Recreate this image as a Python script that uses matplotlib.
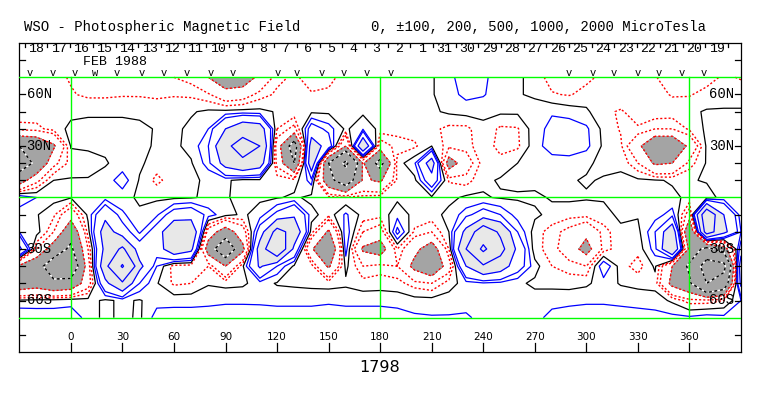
import numpy as np
import matplotlib
matplotlib.use('Agg')
import matplotlib.pyplot as plt

# WSO synoptic map, Carrington rotation 1798 (Feb 1988), field in microTesla
# values on a 10 x 10 degree grid
grid_lon = list(range(-30, 391, 10))
grid_lat = [70, 60, 50, 40, 30, 20, 10, 0, -10, -20, -30, -40, -50, -60, -70]

b_70n = [-60, -60, -70, -110, -150, -150, -150, -160, -170, -200, -250, -500, -800, -750, -400, -130, -80, -150, -130, -60, -40, -40, -80, -30, -10, 60, 180, 120, 50, 20, -40, -150, -180, -130, -70, -50, -60, -90, -180, -180, -150, -80, -110]
b_60n = [-40, -50, -60, -90, -120, -120, -110, -110, -120, -110, -120, -180, -350, -300, -150, -80, -70, -90, -80, -50, -40, -40, -50, -30, -10, 60, 130, 110, 40, 10, -20, -90, -110, -60, -40, -40, -40, -60, -110, -110, -60, -40, -40]
b_50n = [-20, -40, -50, -30, -20, -20, -20, -30, -40, -30, -10, 20, 30, 40, 30, -10, -30, -20, -20, -30, -20, -20, -40, -40, -20, 20, 40, 30, 20, 20, 60, 90, 60, 20, -80, -110, -60, -30, -40, -20, 10, 10, 10]
b_40n = [-150, -130, -60, 30, 40, 40, 40, 30, -10, -20, 20, 100, 500, 800, 700, -100, -250, 300, 150, -20, 80, -30, -60, -50, -70, -130, -130, -30, -120, -110, 60, 130, 160, 120, -30, -110, -110, -200, -200, -80, 20, 30, 30]
b_30n = [-1000, -900, -550, 10, 20, 20, 40, 20, -10, -20, 30, 200, 900, 1200, 1000, -300, -1300, 700, 350, -500, 900, -300, -150, -120, 0, -150, -150, -20, -150, -120, 60, 150, 180, 130, -20, -80, -400, -900, -900, -400, 20, 20, 20]
b_20n = [-1300, -900, -250, -60, -50, -10, 40, 20, -50, -40, -10, 150, 650, 900, 700, -250, -1000, 800, -1000, -2200, -450, -1200, -50, 80, 700, -700, -300, -50, -50, 0, 20, 50, 40, 20, -30, -20, -200, -550, -500, -150, 10, 20, 20]
b_10n = [-700, -250, 0, 10, 10, 40, 160, -10, -130, -40, -20, 20, 20, -40, -30, -40, -50, 150, -800, -1400, -450, -550, -80, -30, 350, -110, -150, -20, 10, 20, 30, 20, 10, -10, 10, 20, 20, 10, -10, -10, 10, 10, 10]
b_eq = [200, 100, 40, 10, 30, 60, 40, -20, -20, -20, -10, 20, 10, -30, -20, -10, 20, -30, -60, -90, -60, -40, -20, -20, -20, -30, 20, 10, -10, -10, -20, 10, 20, 10, 10, 20, 20, 30, 20, -20, -50, 40, 30]
b_10s = [20, 10, -80, -350, 30, 400, 120, 20, 80, 300, 350, 150, 40, -20, 50, 250, 450, 40, -60, 120, -40, -60, 60, -30, -40, 30, 150, 300, 200, 50, 20, -30, -60, -60, -30, 20, 10, 50, 150, -300, 1500, 500, 40]
b_20s = [100, 50, -200, -800, -50, 700, 300, 80, 300, 900, 850, -300, -700, -300, 300, 1200, 800, -50, -550, 180, -200, -300, 250, -120, -200, 0, 600, 1400, 900, 200, -50, -150, -250, -400, -150, -20, -30, 200, 800, -1000, 1300, 600, 100]
b_30s = [600, -200, -700, -1100, -200, 600, 1100, 300, 300, 800, 600, -700, -1500, -600, 700, 1600, 400, -450, -950, 150, -550, -700, -100, -400, -700, -100, 1000, 2200, 1200, 400, -60, -150, -300, -650, -150, -40, -60, 150, 1000, -600, -1200, -700, 300]
b_40s = [-550, -800, -1300, -1500, -300, 800, 2100, 600, 100, -150, -150, -100, -500, -20, 550, 200, -20, -50, -550, 30, -200, -150, -200, -600, -900, -300, 500, 900, 700, 300, 40, -100, -150, -200, 200, -50, -150, 20, -500, -1100, -2500, -2300, 800]
b_50s = [-800, -700, -900, -800, -300, 400, 900, 200, 10, -120, -100, -10, -30, -20, 50, -10, -20, -30, -40, -20, -60, -50, -60, -150, -200, -50, 50, 80, 60, 20, -20, -30, -40, -20, 50, -10, -30, -40, -600, -900, -2000, -1500, 600]
b_60s = [20, 30, 40, 60, 40, -20, 20, -10, 60, 60, 60, 70, 80, 80, 80, 70, 70, 70, 80, 70, 70, 70, 60, 40, 40, 50, 50, 40, 20, 30, 40, 60, 70, 80, 80, 70, 60, 50, -20, -150, -150, -100, 100]
b_70s = [200, 180, 170, 170, 60, -30, 30, -20, 150, 160, 160, 160, 170, 170, 160, 160, 160, 160, 170, 160, 160, 160, 150, 120, 110, 110, 120, 60, 40, 30, 60, 140, 160, 170, 170, 160, 150, 140, 130, 120, 150, 130, 160]

# longitudes of the daily observations (the little v marks)
obs_lon = [-24, -10.6, 2, 13, 15.5, 27, 41.5, 54, 67.6, 81.3, 94, 120.2, 131.2,
           146.3, 159, 172.3, 186, 289.8, 303.7, 315.8, 329.7, 342.4, 355.7, 368.4]
day_labels = ['18', '17', '16', '15', '14', '13', '12', '11', '10', '9', '8', '7',
              '6', '5', '4', '3', '2', '1', '31', '30', '29', '28', '27', '26',
              '25', '24', '23', '22', '21', '20', '19']
lon_ticks = [0, 30, 60, 90, 120, 150, 180, 210, 240, 270, 300, 330, 360]
lat_names = {60: '60N', 30: '30N', -30: '30S', -60: '60S'}
month_label = 'FEB 1988'
rotation = '1798'
title_left = 'WSO - Photospheric Magnetic Field'
title_right = '0, \u00b1100, 200, 500, 1000, 2000 MicroTesla'

mono = 'Liberation Mono'
green = '#00ff00'

fig = plt.figure(figsize=(7.63, 3.96), dpi=100)
ax = fig.add_axes([19.3 / 763, 1 - 352 / 396, (741 - 19.3) / 763, (352 - 43) / 396])
ax.set_xlim(-30, 390)
ax.set_ylim(-90, 90)
ax.set_xticks([])
ax.set_yticks([])
for sp in ax.spines.values():
    sp.set_linewidth(0.9)

field = np.array([b_70n, b_60n, b_50n, b_40n, b_30n, b_20n, b_10n, b_eq,
                  b_10s, b_20s, b_30s, b_40s, b_50s, b_60s, b_70s], dtype=float)
X, Y = np.meshgrid(grid_lon, grid_lat)

# shading of strong fields
ax.contourf(X, Y, field, levels=[-1e5, -500], colors=['#a4a4a4'], zorder=1)
ax.contourf(X, Y, field, levels=[500, 1e5], colors=['#e8e8e8'], zorder=1)

ax.contour(X, Y, field, levels=[0], colors='black', linewidths=0.9, zorder=2)
ax.contour(X, Y, field, levels=[100, 200, 500, 1000, 2000], colors='blue',
           linewidths=0.9, zorder=2)
neg = ax.contour(X, Y, field, levels=[-500, -200, -100], colors='red',
                 linewidths=1.0, zorder=2)
neg.set_linestyle((0, (1.5, 1.5)))
ax.contour(X, Y, field, levels=[-2000, -1000], colors='white', linewidths=1.0, zorder=2)
strong = ax.contour(X, Y, field, levels=[-2000, -1000], colors='black',
                    linewidths=1.0, zorder=3)
strong.set_linestyle((0, (2, 2)))

# green frame lines
for la in [70, 0, -70]:
    ax.plot([-30, 390], [la, la], color=green, lw=1.0, zorder=5)
for lo in [0, 180, 360]:
    ax.plot([lo, lo], [-70, 70], color=green, lw=1.0, zorder=5)

# latitude ticks and labels on both sides
for la in range(-60, 61, 10):
    if la == 0:
        continue
    ax.plot([-30, -26.5], [la, la], color='black', lw=0.9, zorder=6)
    ax.plot([386.5, 390], [la, la], color='black', lw=0.9, zorder=6)
for la in [80, -80]:
    ax.plot([-30, -26.5], [la, la], color='black', lw=0.9)
    ax.plot([386.5, 390], [la, la], color='black', lw=0.9)
for la, name in lat_names.items():
    ax.text(-25.8, la, name, family=mono, fontsize=10, ha='left', va='center', zorder=7)
    ax.text(386.2, la, name, family=mono, fontsize=10, ha='right', va='center', zorder=7)

# longitude ticks at the bottom
for lo in lon_ticks:
    ax.plot([lo, lo], [-90, -84.8], color='black', lw=0.9)
    ax.text(lo, -81.2, str(lo), fontsize=7.5, ha='center', va='center',
            family='DejaVu Sans', color='black')

# day-of-month row at the top
deg_per_day = 360 / 27.2753
first_tick = -26.8
for k in range(len(day_labels) + 1):
    lo = first_tick + k * deg_per_day
    ax.plot([lo, lo], [90, 87.4], color='black', lw=0.9)
for k, lab in enumerate(day_labels):
    lo = first_tick + (k + 0.5) * deg_per_day
    ax.text(lo, 86.6, lab, family=mono, fontsize=9.5, ha='center', va='center')
ax.text(25.7, 79.0, month_label, family=mono, fontsize=9.5, ha='center', va='center')

# observation marks; two marks closer than a few degrees print as a "w"
i = 0
while i < len(obs_lon):
    if i + 1 < len(obs_lon) and obs_lon[i + 1] - obs_lon[i] < 4:
        ax.text((obs_lon[i] + obs_lon[i + 1]) / 2, 72.3, 'w', family=mono,
                fontsize=7.5, ha='center', va='center')
        i += 2
    else:
        ax.text(obs_lon[i], 72.3, 'v', family=mono, fontsize=7.5,
                ha='center', va='center')
        i += 1

fig.text(24 / 763, 1 - 27.5 / 396, title_left, family=mono, fontsize=10,
         ha='left', va='center')
fig.text(371 / 763, 1 - 27.5 / 396, title_right, family=mono, fontsize=10,
         ha='left', va='center')
fig.text(380 / 763, 1 - 367 / 396, rotation, family='DejaVu Sans', fontsize=11.5,
         ha='center', va='center')

fig.savefig('out.png', dpi=100)
